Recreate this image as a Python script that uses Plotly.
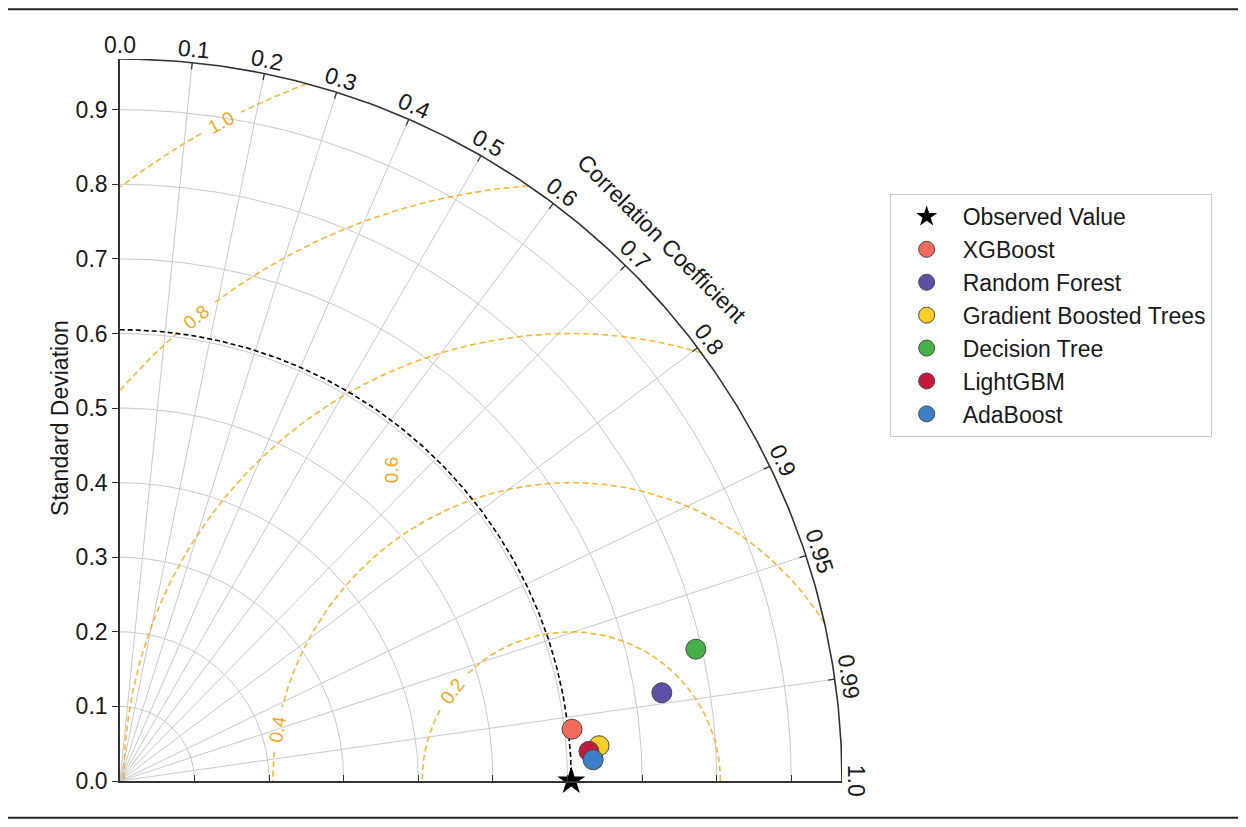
import numpy as np
import plotly.graph_objects as go

# Taylor diagram data
models = ["XGBoost", "Random Forest", "Gradient Boosted Trees", "Decision Tree", "LightGBM", "AdaBoost"]
model_std = [0.610, 0.736, 0.644, 0.792, 0.630, 0.635]
model_corr = [0.9935, 0.987, 0.9973, 0.9748, 0.998, 0.999]
model_colors = ["#F26A5B", "#5B4FA6", "#F7CF26", "#45B047", "#C3193C", "#3D80C6"]

ref_name = "Observed Value"
ref_std = 0.605

corr_ticks = [0.0, 0.1, 0.2, 0.3, 0.4, 0.5, 0.6, 0.7, 0.8, 0.9, 0.95, 0.99, 1.0]
corr_ticktext = ["0.0", "0.1", "0.2", "0.3", "0.4", "0.5", "0.6", "0.7", "0.8", "0.9", "0.95", "0.99", "1.0"]
std_ticks = [0.0, 0.1, 0.2, 0.3, 0.4, 0.5, 0.6, 0.7, 0.8, 0.9]
std_ticktext = ["0.0", "0.1", "0.2", "0.3", "0.4", "0.5", "0.6", "0.7", "0.8", "0.9"]
rms_levels = [0.2, 0.4, 0.6, 0.8, 1.0]
rms_ticktext = ["0.2", "0.4", "0.6", "0.8", "1.0"]

rmax = 1.6 * ref_std
FONT = "Liberation Sans, Arial, sans-serif"
ORANGE = "rgba(255,165,0,0.8)"
TXT = "#1a1a1a"

# where the rms labels sit: (distance from ref point, angle around it in deg, text angle)
rms_label_pos = [(0.2, 143, -53), (0.4, 170, -80), (0.482, 120, -90), (0.8, 129, -39), (1.0, 118, -28)]


def polar_xy(r, theta):
    return r * np.cos(theta), r * np.sin(theta)


def joined(segments):
    xs, ys = [], []
    for sx, sy in segments:
        xs += list(sx) + [None]
        ys += list(sy) + [None]
    return xs, ys


def label(x, y, text, angle, size, color):
    # axes span [0, rmax] on both sides, so paper coords are data / rmax
    # (data-referenced annotations outside the range would be hidden)
    return dict(x=x / rmax, y=y / rmax, xref="paper", yref="paper", xanchor="center", yanchor="middle",
                text=text, showarrow=False, textangle=angle, font=dict(size=size, color=color, family=FONT))


fig = go.Figure()

# std grid arcs
quarter = np.linspace(0, np.pi / 2, 200)
arcs = [polar_xy(s, quarter) for s in std_ticks[1:]]
gx, gy = joined(arcs)
fig.add_trace(go.Scatter(x=gx, y=gy, mode="lines", line=dict(color="#c9c9c9", width=1),
                         showlegend=False, hoverinfo="skip"))

# correlation spokes
spokes = []
for c in corr_ticks[1:-1]:
    t = np.arccos(c)
    spokes.append(([0, rmax * np.cos(t)], [0, rmax * np.sin(t)]))
sx, sy = joined(spokes)
fig.add_trace(go.Scatter(x=sx, y=sy, mode="lines", line=dict(color="#c9c9c9", width=1),
                         showlegend=False, hoverinfo="skip"))

# rms contours around the reference point
phi = np.linspace(0, np.pi, 3000)
for lvl, (lr, la, _) in zip(rms_levels, rms_label_pos):
    cx = ref_std + lvl * np.cos(phi)
    cy = lvl * np.sin(phi)
    keep = (cx >= 0) & (cx ** 2 + cy ** 2 <= rmax ** 2)
    if abs(lr - lvl) < 1e-6:
        lx = ref_std + lr * np.cos(np.radians(la))
        ly = lr * np.sin(np.radians(la))
        keep &= np.hypot(cx - lx, cy - ly) > 0.03
    cx = np.where(keep, cx, np.nan)
    cy = np.where(keep, cy, np.nan)
    fig.add_trace(go.Scatter(x=cx, y=cy, mode="lines", connectgaps=False,
                             line=dict(color=ORANGE, width=1.6, dash="6px,3.5px"),
                             showlegend=False, hoverinfo="skip"))

# reference std arc
rx, ry = polar_xy(ref_std, quarter)
fig.add_trace(go.Scatter(x=rx, y=ry, mode="lines", line=dict(color="black", width=1.6, dash="5px,3px"),
                         showlegend=False, hoverinfo="skip"))

# outer frame arc and its ticks
ox, oy = polar_xy(rmax, quarter)
fig.add_trace(go.Scatter(x=ox, y=oy, mode="lines", line=dict(color="#333333", width=1.6),
                         showlegend=False, hoverinfo="skip"))
ticks = []
for c in corr_ticks[1:-1]:
    t = np.arccos(c)
    ticks.append(([(rmax - 0.009) * np.cos(t), rmax * np.cos(t)], [(rmax - 0.009) * np.sin(t), rmax * np.sin(t)]))
tx, ty = joined(ticks)
fig.add_trace(go.Scatter(x=tx, y=ty, mode="lines", line=dict(color="#333333", width=1.3),
                         showlegend=False, hoverinfo="skip"))

# observed value
fig.add_trace(go.Scatter(x=[ref_std], y=[0], mode="markers", name=ref_name, cliponaxis=False,
                         marker=dict(symbol="star", size=21, color="black")))

# models
for name, s, c, col in zip(models, model_std, model_corr, model_colors):
    t = np.arccos(c)
    fig.add_trace(go.Scatter(x=[s * np.cos(t)], y=[s * np.sin(t)], mode="markers", name=name,
                             cliponaxis=False,
                             marker=dict(size=20, color=col, line=dict(color="#4a4a4a", width=1))))

annotations = []
for c, txt in zip(corr_ticks, corr_ticktext):
    t = np.arccos(c)
    ax, ay = polar_xy(rmax + 0.019, t)
    annotations.append(label(ax, ay, txt, 90 - np.degrees(t), 23, TXT))
ax, ay = polar_xy(rmax + 0.06, np.radians(45))
annotations.append(label(ax, ay, "Correlation Coefficient", 45, 23, TXT))
for txt, (lr, la, ang) in zip(rms_ticktext, rms_label_pos):
    annotations.append(label(ref_std + lr * np.cos(np.radians(la)), lr * np.sin(np.radians(la)),
                             txt, ang, 19, "#F5A623"))
# y axis title placed by hand
annotations.append(dict(x=-0.083, y=0.503, xref="paper", yref="paper", xanchor="center", yanchor="middle",
                        text="Standard Deviation", showarrow=False, textangle=-90,
                        font=dict(size=23, color=TXT, family=FONT)))

fig.update_layout(
    width=1246, height=827,
    margin=dict(l=112, r=412, t=51, b=54),
    plot_bgcolor="white", paper_bgcolor="white",
    font=dict(family=FONT, size=23, color=TXT),
    annotations=annotations,
    legend=dict(x=1.066, y=0.813, xanchor="left", yanchor="top", bordercolor="#cccccc", borderwidth=1,
                font=dict(size=23), tracegroupgap=0, itemwidth=62),
    shapes=[
        dict(type="line", xref="paper", yref="paper", x0=-0.17, x1=1.56, y0=1.069, y1=1.069,
             line=dict(color="#222222", width=2)),
        dict(type="line", xref="paper", yref="paper", x0=-0.17, x1=1.56, y0=-0.051, y1=-0.051,
             line=dict(color="#222222", width=2)),
    ],
)
fig.update_xaxes(range=[0, rmax], showgrid=False, zeroline=False, showline=True, linecolor="#333333",
                 linewidth=1.6, ticks="inside", ticklen=6, tickcolor="#333333", tickvals=std_ticks[1:],
                 showticklabels=False)
fig.update_yaxes(range=[0, rmax], showgrid=False, zeroline=False, showline=True, linecolor="#333333",
                 linewidth=1.6, ticks="outside", ticklen=6, tickcolor="#333333", tickvals=std_ticks,
                 ticktext=std_ticktext, scaleanchor="x", scaleratio=1)

fig.write_html("out.html")
